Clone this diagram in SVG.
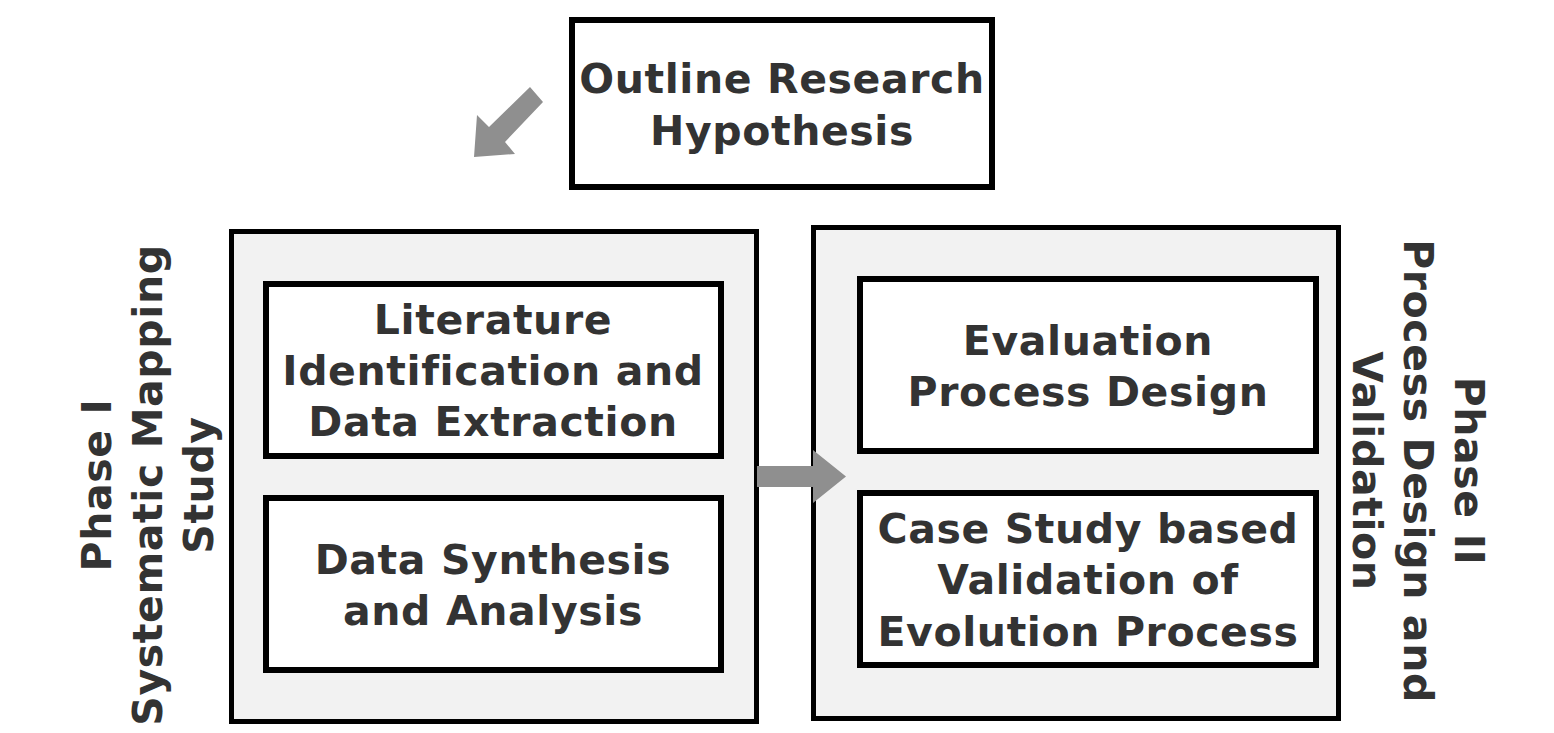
<svg xmlns="http://www.w3.org/2000/svg" width="1554" height="733" viewBox="0 0 1554 733">
<style>
.phase{fill:#f2f2f2;stroke:#000;stroke-width:5}
.box{fill:#fff;stroke:#000;stroke-width:6}
.t{font-family:"DejaVu Sans",Verdana,sans-serif;font-weight:bold;font-size:41px;letter-spacing:0.6px;fill:#333;text-anchor:middle}
.arrow{fill:#8f8f8f}
</style>
<rect width="1554" height="733" fill="#fff"/>
<g id="outline">
<rect class="box" x="572" y="20" width="420" height="167"/>
<text class="t" x="782" y="93">Outline Research</text>
<text class="t" x="782" y="145">Hypothesis</text>
</g>
<g id="phase1">
<rect class="phase" x="231.5" y="231.5" width="525" height="490"/>
<text class="t" transform="translate(0,485) rotate(-90)" x="0" y="111">Phase I</text>
<text class="t" transform="translate(0,485) rotate(-90)" x="0" y="162">Systematic Mapping</text>
<text class="t" transform="translate(0,485) rotate(-90)" x="0" y="213">Study</text>
</g>
<g id="lit">
<rect class="box" x="266" y="284" width="455" height="172"/>
<text class="t" x="493" y="334">Literature</text>
<text class="t" x="493" y="385">Identification and</text>
<text class="t" x="493" y="436">Data Extraction</text>
</g>
<g id="synth">
<rect class="box" x="266" y="498" width="455" height="172"/>
<text class="t" x="493" y="574">Data Synthesis</text>
<text class="t" x="493" y="625">and Analysis</text>
</g>
<g id="phase2">
<rect class="phase" x="813.5" y="227.5" width="525" height="491"/>
<text class="t" transform="translate(0,471) rotate(90)" x="0" y="-1455">Phase II</text>
<text class="t" transform="translate(0,471) rotate(90)" x="0" y="-1404">Process Design and</text>
<text class="t" transform="translate(0,471) rotate(90)" x="0" y="-1353">Validation</text>
</g>
<g id="eval">
<rect class="box" x="860" y="279" width="456" height="172"/>
<text class="t" x="1088" y="355">Evaluation</text>
<text class="t" x="1088" y="406">Process Design</text>
</g>
<g id="case">
<rect class="box" x="860" y="493" width="456" height="172"/>
<text class="t" x="1088" y="543">Case Study based</text>
<text class="t" x="1088" y="594">Validation of</text>
<text class="t" x="1088" y="646">Evolution Process</text>
</g>
<g id="connectors">
<polygon class="arrow" points="530,87 543,102 505,142 515,154 474,157 477,115 489,127"/>
<polygon class="arrow" points="757,466 813,466 813,450 846,476.5 813,503 813,487 757,487"/>
</g>
</svg>
